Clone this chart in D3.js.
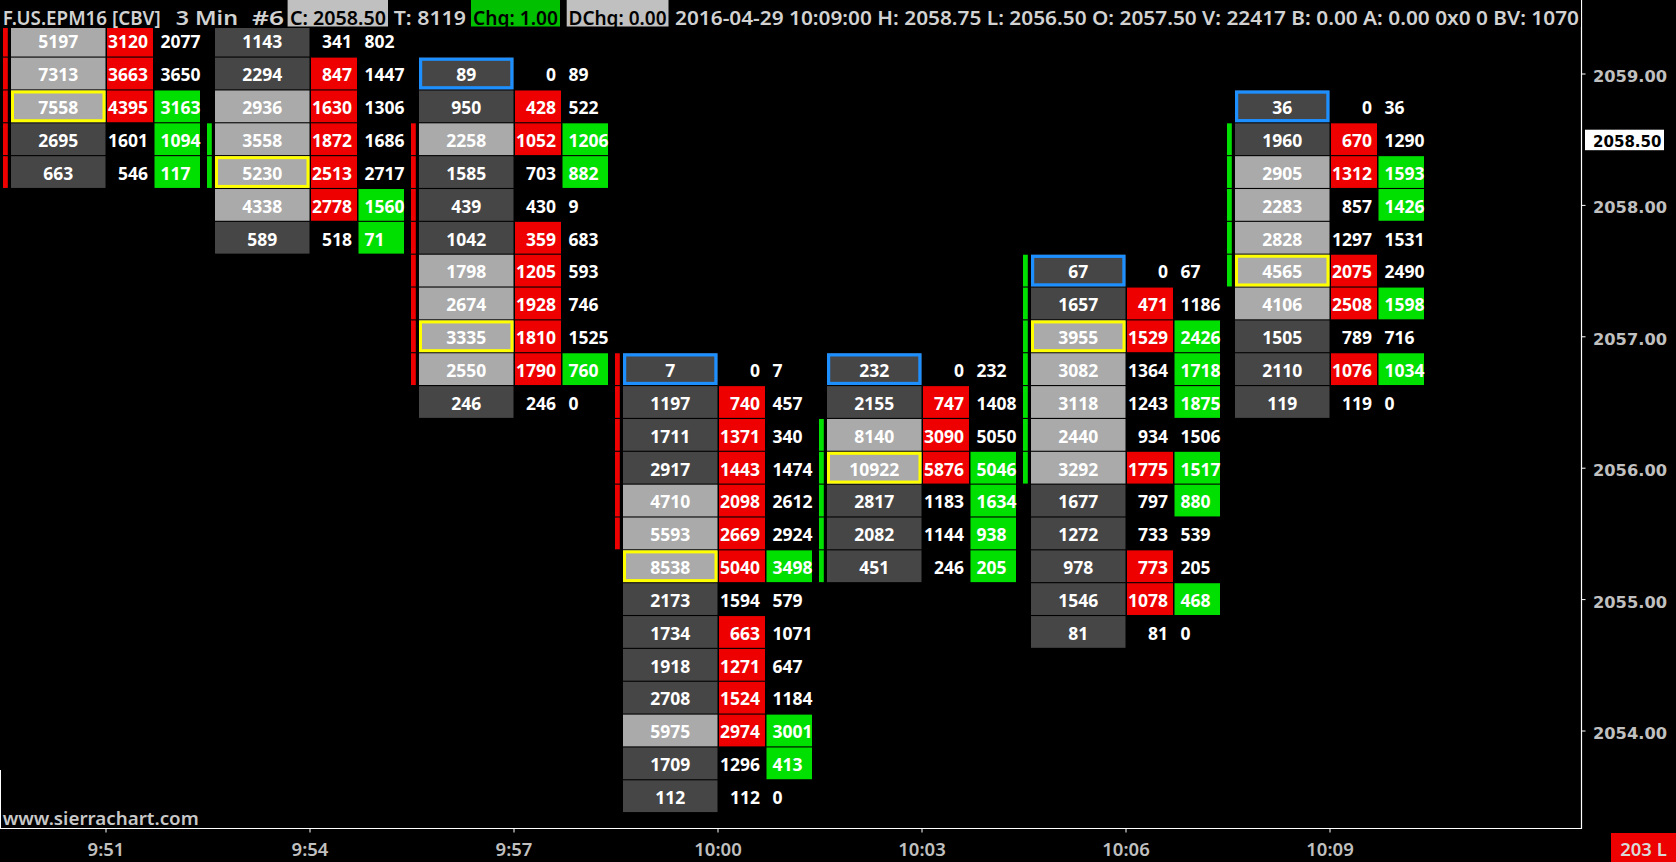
<!DOCTYPE html>
<html><head><meta charset="utf-8">
<script src="https://cdn.jsdelivr.net/npm/d3@7"></script>
<style>html,body{margin:0;padding:0;background:#000;overflow:hidden}</style>
</head><body><svg id="c" width="1676" height="862"></svg>
<script>
// ---------- DATA ----------
const barTimes = ["9:51","9:54","9:57","10:00","10:03","10:06","10:09"];
const barTopPrice = [2059.25, 2059.25, 2059.00, 2056.75, 2056.75, 2057.50, 2058.75];
const barTopClipped = [true, true, false, false, false, false, false];
const clippedTopBidImbalance = [true, false, null, null, null, null, null];
const totalVolume = [
  [5197,7313,7558,2695,663],
  [1143,2294,2936,3558,5230,4338,589],
  [89,950,2258,1585,439,1042,1798,2674,3335,2550,246],
  [7,1197,1711,2917,4710,5593,8538,2173,1734,1918,2708,5975,1709,112],
  [232,2155,8140,10922,2817,2082,451],
  [67,1657,3955,3082,3118,2440,3292,1677,1272,978,1546,81],
  [36,1960,2905,2283,2828,4565,4106,1505,2110,119]
];
const bidVolume = [
  [3120,3663,4395,1601,546],
  [341,847,1630,1872,2513,2778,518],
  [0,428,1052,703,430,359,1205,1928,1810,1790,246],
  [0,740,1371,1443,2098,2669,5040,1594,663,1271,1524,2974,1296,112],
  [0,747,3090,5876,1183,1144,246],
  [0,471,1529,1364,1243,934,1775,797,733,773,1078,81],
  [0,670,1312,857,1297,2075,2508,789,1076,119]
];
const askVolume = [
  [2077,3650,3163,1094,117],
  [802,1447,1306,1686,2717,1560,71],
  [89,522,1206,882,9,683,593,746,1525,760,0],
  [7,457,340,1474,2612,2924,3498,579,1071,647,1184,3001,413,0],
  [232,1408,5050,5046,1634,938,205],
  [67,1186,2426,1718,1875,1506,1517,880,539,205,468,0],
  [36,1290,1593,1426,1531,2490,1598,716,1034,0]
];
const stripColor = ["red","green","red","red","green","green","green"];
const stripHigh = [2059.25, 2058.50, 2058.50, 2056.75, 2056.25, 2057.50, 2058.50];
const stripLow  = [2058.25, 2058.25, 2056.75, 2055.50, 2055.25, 2056.00, 2057.50];
const priceTicks = [2059, 2058, 2057, 2056, 2055, 2054];
const lastPrice = 2058.50;
const headerLeftTexts = ["F.US.EPM16 [CBV]","3 Min","#6","C: 2058.50","T: 8119","Chg: 1.00","DChg: 0.00"];
const headerRightText = "2016-04-29 10:09:00 H: 2058.75 L: 2056.50 O: 2057.50 V: 22417 B: 0.00 A: 0.00 0x0 0 BV: 1070";
const volumeLabel = "203 L";
const watermark = "www.sierrachart.com";

// ---------- LAYOUT / STYLE ----------
const COL = {red:"#ee0000", green:"#00e000", light:"#aaaaaa", dark:"#464646",
  poc:"#ffff00", high:"#1e8fff", text:"#ffffff", axis:"#c0c0c0", header:"#d2d2d2"};
const headerLayout = [
  {x0:2.7,x1:160.7},{x0:175.7,x1:238},{x0:252,x1:284},
  {x0:290,x1:386,bx0:287.6,bx1:388,bg:"#c0c0c0",fg:"#000"},
  {x0:393.7,x1:466},
  {x0:473,x1:558,bx0:471,bx1:560,bg:"#00c000",fg:"#000"},
  {x0:568.5,x1:666.5,bx0:566.7,bx1:668.5,bg:"#c0c0c0",fg:"#000"}
];
const FONT = "'Noto Sans', 'Open Sans', sans-serif";
const AXFONT = "'DejaVu Sans', Verdana, sans-serif";

const svg = d3.select("#c");
svg.append("rect").attr("width",1676).attr("height",862).attr("fill","#000");

const parseT = d3.timeParse("%H:%M");
const x = d3.scaleTime().domain([parseT("9:51"), parseT("10:09")]).range([105.5, 1329.5]);
const y = d3.scaleLinear().domain([2059, 2054]).range([73.5, 730.5]);
const rowH = Math.abs(y(2059) - y(2058.75));
const boxH = rowH - 1.1;

svg.append("defs").append("clipPath").attr("id","plot")
  .append("rect").attr("x",0).attr("y",28).attr("width",1581).attr("height",800);
const plot = svg.append("g").attr("clip-path","url(#plot)");

barTimes.forEach((t, i) => {
  const X = x(parseT(t));
  const tot = totalVolume[i], bid = bidVolume[i], ask = askVolume[i];
  const poc = d3.max(tot);
  const g = plot.append("g");
  tot.forEach((v, j) => {
    const price = barTopPrice[i] - j * 0.25;
    const Y = y(price);
    const top = Y - boxH / 2;
    if (price <= stripHigh[i] + 1e-9 && price >= stripLow[i] - 1e-9) {
      g.append("rect").attr("x", X - 102.5).attr("y", top).attr("width", 4.8).attr("height", boxH)
        .attr("fill", COL[stripColor[i]]);
    }
    g.append("rect").attr("x", X - 94.5).attr("y", top).attr("width", 94.5).attr("height", boxH)
      .attr("fill", v >= 0.5 * poc ? COL.light : COL.dark);
    if (v === poc) {
      g.append("rect").attr("x", X - 94.5 + 1.5).attr("y", top + 1.5).attr("width", 94.5 - 3).attr("height", boxH - 3)
        .attr("fill","none").attr("stroke", COL.poc).attr("stroke-width", 3);
    } else if (j === 0 && !barTopClipped[i]) {
      g.append("rect").attr("x", X - 94.5 + 1.6).attr("y", top + 1.6).attr("width", 94.5 - 3.2).attr("height", boxH - 3.2)
        .attr("fill","none").attr("stroke", COL.high).attr("stroke-width", 3.2);
    }
    let bidImb;
    if (j === 0) bidImb = barTopClipped[i] ? clippedTopBidImbalance[i] : bid[j] > 0;
    else bidImb = bid[j] > ask[j - 1];
    const below = j < tot.length - 1 ? bid[j + 1] : 0;
    const askImb = ask[j] > below;
    if (bidImb) g.append("rect").attr("x", X + 1.5).attr("y", top).attr("width", 46).attr("height", boxH).attr("fill", COL.red);
    if (askImb) g.append("rect").attr("x", X + 49).attr("y", top).attr("width", 45.5).attr("height", boxH).attr("fill", COL.green);
    const ty = Y + 7.8;
    g.append("text").attr("x", X - 47.25).attr("y", ty).attr("text-anchor","middle").text(v);
    g.append("text").attr("x", X + 42.5).attr("y", ty).attr("text-anchor","end").text(bid[j]);
    g.append("text").attr("x", X + 55).attr("y", ty).attr("text-anchor","start").text(ask[j]);
  });
  g.selectAll("text").attr("font-family", FONT).attr("font-weight", "bold")
    .attr("font-size", 17.5).attr("fill", COL.text);
});

// frame
svg.append("line").attr("x1",0).attr("x2",1582).attr("y1",828.5).attr("y2",828.5).attr("stroke","#fff").attr("stroke-width",1.2);
svg.append("line").attr("x1",1581.5).attr("x2",1581.5).attr("y1",0).attr("y2",829).attr("stroke","#fff").attr("stroke-width",1.2);
svg.append("line").attr("x1",0.5).attr("x2",0.5).attr("y1",770).attr("y2",829).attr("stroke","#fff").attr("stroke-width",1);

// x axis
const xAxis = d3.axisBottom(x).tickValues(barTimes.map(parseT)).tickFormat(d3.timeFormat("%-H:%M")).tickSize(4).tickPadding(8);
const gx = svg.append("g").attr("transform","translate(0,828.5)").call(xAxis);
gx.select(".domain").remove();
gx.selectAll("line").attr("stroke","#fff");
gx.selectAll("text").attr("font-family", FONT).attr("font-size", 18.5).attr("font-weight", 600)
  .attr("fill", COL.axis).attr("dy", null).attr("y", 27.5);

// y axis
const yAxis = d3.axisRight(y).tickValues(priceTicks).tickFormat(d3.format(".2f")).tickSize(4).tickPadding(7.5);
const gy = svg.append("g").attr("transform","translate(1581.5,0)").call(yAxis);
gy.select(".domain").remove();
gy.selectAll("line").attr("stroke","#fff");
gy.selectAll("text").attr("font-family", AXFONT).attr("font-size", 15.5).attr("font-weight","bold")
  .attr("fill", COL.axis).attr("dy", null).attr("y", 8).attr("textLength", 74).attr("lengthAdjust","spacingAndGlyphs");

// last price
const ly = y(lastPrice);
svg.append("rect").attr("x",1585).attr("y",ly - 9.5).attr("width",79).attr("height",20.5).attr("fill","#fff");
svg.append("text").attr("x",1593).attr("y",ly + 8).attr("font-family",AXFONT).attr("font-size",15.5)
  .attr("font-weight","bold").attr("fill","#000").attr("textLength",68.5).attr("lengthAdjust","spacingAndGlyphs")
  .text(d3.format(".2f")(lastPrice));

// volume label
svg.append("rect").attr("x",1611).attr("y",833).attr("width",65).attr("height",29).attr("fill","#ee0000");
svg.append("text").attr("x",1643.5).attr("y",856).attr("text-anchor","middle").attr("font-family",FONT)
  .attr("font-size",18.5).attr("font-weight",600).attr("fill","#d8d8d8").text(volumeLabel);

// watermark
svg.append("text").attr("x",2.7).attr("y",825).attr("font-family",FONT).attr("font-size",18)
  .attr("font-weight",600).attr("fill","#c8c8c8").attr("textLength",196).attr("lengthAdjust","spacingAndGlyphs").text(watermark);

// header
const hdr = svg.append("g");
hdr.append("rect").attr("width",1581).attr("height",27).attr("fill","#000");
headerLeftTexts.forEach((t, k) => {
  const L = headerLayout[k];
  if (L.bg) hdr.append("rect").attr("x",L.bx0).attr("y",0).attr("width",L.bx1-L.bx0).attr("height",26.5).attr("fill",L.bg);
  hdr.append("text").attr("x",L.x0).attr("y",24.5).attr("textLength",L.x1-L.x0).attr("lengthAdjust","spacingAndGlyphs")
    .attr("fill", L.fg || COL.header).text(t);
});
hdr.append("text").attr("x",675).attr("y",24.5).attr("textLength",1579-675).attr("lengthAdjust","spacingAndGlyphs")
  .attr("fill", COL.header).text(headerRightText);
hdr.selectAll("text").attr("font-family",FONT).attr("font-size",20.5).attr("font-weight",600);
</script></body></html>
